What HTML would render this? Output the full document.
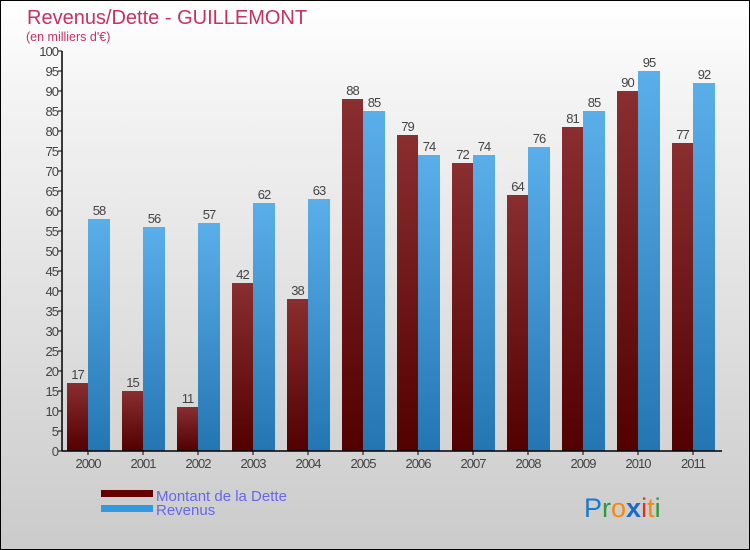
<!DOCTYPE html>
<html><head><meta charset="utf-8"><style>
body{margin:0;}
#c{width:748px;height:548px;border:1px solid #000;background:linear-gradient(#fff,#f2f2f2 20%,#cbcbcb);position:relative;font-family:"Liberation Sans","DejaVu Sans",sans-serif;}
</style></head><body>
<div id="c">
<svg id="s" width="748" height="548" style="position:absolute;left:0;top:0">
<defs>
<linearGradient id="gd" x1="0" y1="0" x2="0" y2="1"><stop offset="0" stop-color="#8a2e30"/><stop offset="1" stop-color="#520000"/></linearGradient>
<linearGradient id="gr" x1="0" y1="0" x2="0" y2="1"><stop offset="0" stop-color="#5aaeea"/><stop offset="1" stop-color="#2476b2"/></linearGradient>
</defs>
<text x="26" y="23" font-size="20" fill="#c8325f">Revenus/Dette - GUILLEMONT</text>
<text x="25" y="40" font-size="12.5" fill="#c8325f">(en milliers d'€)</text>
<g id="plot"></g>
<rect x="100" y="489" width="52" height="7" fill="#660000"/>
<rect x="100" y="504" width="52" height="7" fill="#3399e0"/>
<text x="155" y="500" font-size="15" fill="#6666ee">Montant de la Dette</text>
<text x="155" y="514" font-size="15" fill="#6666ee">Revenus</text>
<text x="583" y="516" font-size="27"><tspan fill="#1a7acc">P</tspan><tspan fill="#2a9a3a">r</tspan><tspan fill="#f08a10">o</tspan><tspan fill="#1a6acc" font-weight="bold">x</tspan><tspan fill="#e0301a">i</tspan><tspan fill="#f08a10">t</tspan><tspan fill="#2a9a3a">i</tspan></text>
</svg>
</div>
<script>
const years=["2000","2001","2002","2003","2004","2005","2006","2007","2008","2009","2010","2011"];
const dette=[17,15,11,42,38,88,79,72,64,81,90,77];
const revenus=[58,56,57,62,63,85,74,74,76,85,95,92];
const yTicks=[0,5,10,15,20,25,30,35,40,45,50,55,60,65,70,75,80,85,90,95,100];
const NS="http://www.w3.org/2000/svg";
const g=document.getElementById('plot');
const x0=61,y0=450,gw=55;
function y(v){return y0-v*4;}
function gx(i){return x0+i*gw;}
function mk(t,a,p){const e=document.createElementNS(NS,t);for(const k in a)e.setAttribute(k,a[k]);(p||g).appendChild(e);return e;}
yTicks.forEach(v=>{
 const l=mk('line',{x1:x0-4,x2:x0,y1:y(v),y2:y(v),stroke:'#000'});
 
 
 const t=mk('text',{x:x0-4,y:y(v)+5,'font-size':13,fill:'#444','text-anchor':'end','letter-spacing':'-1'});
 t.textContent=v;
 
 
});
years.forEach((yr,i)=>{
 const s=gx(i);
 const b1=mk('rect',{x:s+5,y:y(dette[i]),width:21,height:dette[i]*4,fill:'url(#gd)'});
 
 
 const b2=mk('rect',{x:s+26,y:y(revenus[i]),width:22,height:revenus[i]*4,fill:'url(#gr)'});
 
 
 const t1=mk('text',{x:s+15.5,y:y(dette[i])-4,'font-size':13,fill:'#444','text-anchor':'middle','letter-spacing':'-1'});
 t1.textContent=dette[i];
 
 
 const t2=mk('text',{x:s+37,y:y(revenus[i])-4,'font-size':13,fill:'#444','text-anchor':'middle','letter-spacing':'-1'});
 t2.textContent=revenus[i];
 
 
 const tk=mk('line',{x1:s+26,x2:s+26,y1:y0,y2:y0+4,stroke:'#000'});
 
 
 const xl=mk('text',{x:s+26,y:y0+17,'font-size':13,fill:'#444','text-anchor':'middle','letter-spacing':'-1'});
 xl.textContent=yr;
 
 
});
const ax=mk('line',{x1:x0,x2:x0,y1:y(100),y2:y0,stroke:'#000','stroke-width':1.5});


const xa=mk('line',{x1:x0,x2:gx(12),y1:y0,y2:y0,stroke:'#000','stroke-width':1.5});


</script>
</body></html>
